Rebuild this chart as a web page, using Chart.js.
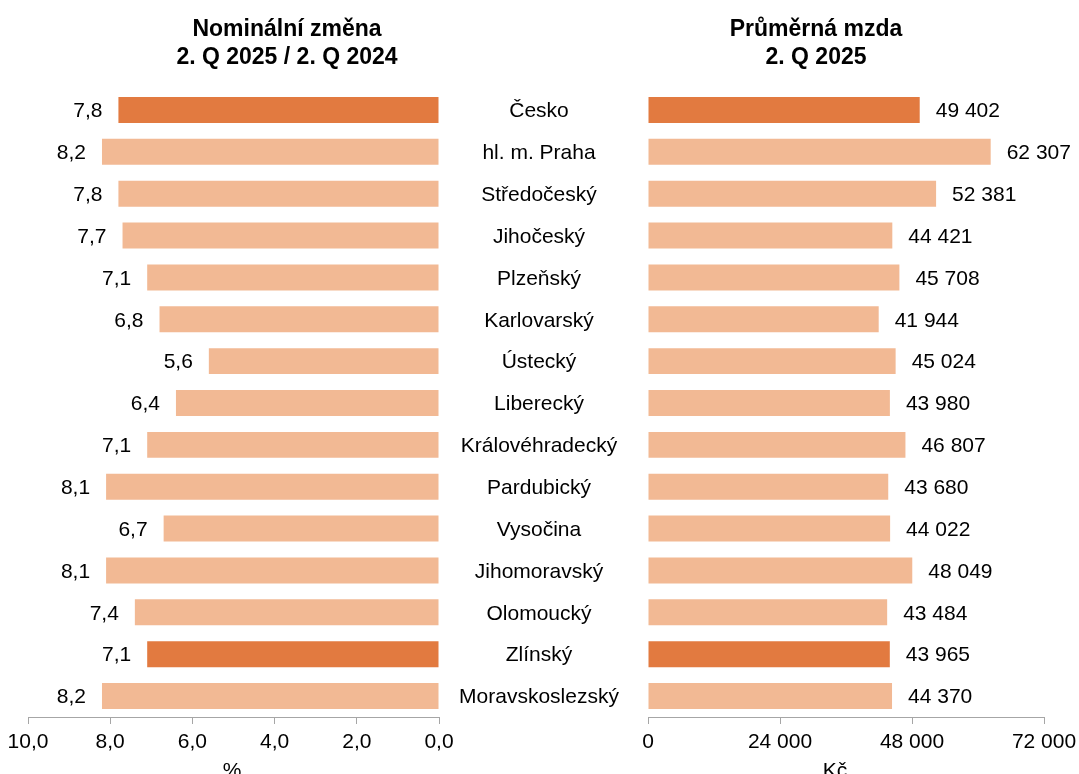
<!DOCTYPE html>
<html lang="cs">
<head>
<meta charset="utf-8">
<title>Nominální změna a průměrná mzda podle krajů, 2. Q 2025</title>
<script src="https://cdn.jsdelivr.net/npm/chart.js@4"></script>
<style>
    html, body { margin: 0; padding: 0; background: #fff; overflow: hidden; }
    #wrap { position: relative; width: 1079px; height: 774px; }
    #wrap canvas { position: absolute; left: 0; top: 0; }
</style>
</head>
<body>
<div id="wrap">
    <canvas id="chartZmena" width="1079" height="774"></canvas>
    <canvas id="chartMzda" width="1079" height="774"></canvas>
</div>
<script>
// Data
const kraje = ['Česko', 'hl. m. Praha', 'Středočeský', 'Jihočeský', 'Plzeňský', 'Karlovarský', 'Ústecký', 'Liberecký',
    'Královéhradecký', 'Pardubický', 'Vysočina', 'Jihomoravský', 'Olomoucký', 'Zlínský', 'Moravskoslezský'];
const zmena = [7.8, 8.2, 7.8, 7.7, 7.1, 6.8, 5.6, 6.4, 7.1, 8.1, 6.7, 8.1, 7.4, 7.1, 8.2];
const mzda = [49402, 62307, 52381, 44421, 45708, 41944, 45024, 43980, 46807, 43680, 44022, 48049, 43484, 43965, 44370];
const zvyraznene = ['Česko', 'Zlínský'];
const ticksZmena = [0, 2, 4, 6, 8, 10];
const ticksMzda = [0, 24000, 48000, 72000];

const TMAVA = '#E27A40';
const SVETLA = '#F2B994';
const SEDA = '#A6A6A6';
const PISMO = '"Liberation Sans", Arial, sans-serif';

Chart.defaults.font.family = PISMO;
Chart.defaults.font.size = 21;
Chart.defaults.color = '#000';
Chart.defaults.animation = false;

const barvy = kraje.map(k => zvyraznene.includes(k) ? TMAVA : SVETLA);
const fmtProc = v => v.toFixed(1).replace('.', ',');
const fmtKc = v => String(Math.round(v)).replace(/\B(?=(\d{3})+(?!\d))/g, ' ');

// popisky hodnot u sloupcu + texty navic
function popiskyPlugin(fmt, strana, texty) {
    return {
        id: 'popisky',
        afterDatasetsDraw(chart) {
            const ctx = chart.ctx;
            const meta = chart.getDatasetMeta(0);
            const data = chart.data.datasets[0].data;
            ctx.save();
            ctx.font = '21px ' + PISMO;
            ctx.fillStyle = '#000';
            ctx.textBaseline = 'middle';
            meta.data.forEach((bar, i) => {
                if (strana === 'left') {
                    ctx.textAlign = 'right';
                    ctx.fillText(fmt(data[i]), bar.x - 16, bar.y + 1.5);
                } else {
                    ctx.textAlign = 'left';
                    ctx.fillText(fmt(data[i]), bar.x + 16, bar.y + 1.5);
                }
            });
            texty(chart, ctx);
            ctx.restore();
        }
    };
}

function moznosti(padding, xScale) {
    return {
        indexAxis: 'y',
        responsive: false,
        maintainAspectRatio: false,
        layout: { padding: padding },
        plugins: { legend: { display: false }, tooltip: { enabled: false }, title: { display: false } },
        scales: {
            y: { display: false, offset: true },
            x: Object.assign({
                grid: { drawOnChartArea: false, drawTicks: true, tickLength: 7, color: SEDA },
                border: { display: true, color: SEDA, width: 1 },
                afterFit(scale) {
                    scale.height = 57;
                    // okraje drzi layout.padding
                    scale.paddingLeft = 0;
                    scale.paddingRight = 0;
                }
            }, xScale)
        }
    };
}

new Chart(document.getElementById('chartZmena'), {
    type: 'bar',
    data: {
        labels: kraje,
        datasets: [{ data: zmena, backgroundColor: barvy, borderWidth: 0, barPercentage: 0.62, categoryPercentage: 1 }]
    },
    options: moznosti({ left: 28, right: 640, top: 89, bottom: 0 }, {
        reverse: true,
        min: 0,
        max: 10,
        afterBuildTicks(scale) { scale.ticks = ticksZmena.map(v => ({ value: v })); },
        ticks: { padding: 6, callback: v => fmtProc(v) }
    }),
    plugins: [popiskyPlugin(fmtProc, 'left', (chart, ctx) => {
        // nazvy kraju uprostred
        const y = chart.scales.y;
        ctx.textAlign = 'center';
        kraje.forEach((k, i) => ctx.fillText(k, 539, y.getPixelForValue(i) + 1.5));
        // nadpis
        ctx.font = 'bold 23px ' + PISMO;
        ctx.fillText('Nominální změna', 287, 30);
        ctx.fillText('2. Q 2025 / 2. Q 2024', 287, 58);
        // jednotka osy
        ctx.font = '21px ' + PISMO;
        ctx.fillText('%', 232, 771);
    })]
});

new Chart(document.getElementById('chartMzda'), {
    type: 'bar',
    data: {
        labels: kraje,
        datasets: [{ data: mzda, backgroundColor: barvy, borderWidth: 0, barPercentage: 0.62, categoryPercentage: 1 }]
    },
    options: moznosti({ left: 648, right: 35, top: 89, bottom: 0 }, {
        min: 0,
        max: 72000,
        afterBuildTicks(scale) { scale.ticks = ticksMzda.map(v => ({ value: v })); },
        ticks: { padding: 6, callback: v => fmtKc(v) }
    }),
    plugins: [popiskyPlugin(fmtKc, 'right', (chart, ctx) => {
        ctx.textAlign = 'center';
        ctx.font = 'bold 23px ' + PISMO;
        ctx.fillText('Průměrná mzda', 816, 30);
        ctx.fillText('2. Q 2025', 816, 58);
        ctx.font = '21px ' + PISMO;
        ctx.fillText('Kč', 835, 771);
    })]
});
</script>
</body>
</html>
